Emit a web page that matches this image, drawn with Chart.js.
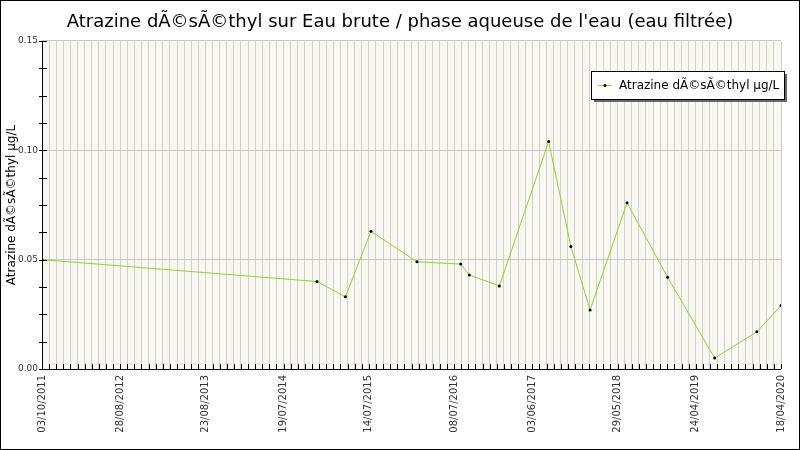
<!DOCTYPE html>
<html>
<head>
<meta charset="utf-8">
<script src="https://cdn.jsdelivr.net/npm/chart.js@4"></script>
<style>
  html, body { margin: 0; padding: 0; background: #fff; }
  #wrap { width: 798px; height: 448px; border: 1px solid #000; }
</style>
</head>
<body>
<div id="wrap"><canvas id="chart" width="798" height="448"></canvas></div>
<script>
const chartTitle = "Atrazine dÃ©sÃ©thyl sur Eau brute / phase aqueuse de l'eau (eau filtrée)"
const seriesName = 'Atrazine dÃ©sÃ©thyl µg/L'
const startDate = '2011-10-03'
const sampleDates = ['2011-10-03', '2014-12-07', '2015-04-06', '2015-07-23', '2016-02-02', '2016-08-05',
  '2016-09-10', '2017-01-15', '2017-08-11', '2017-11-13', '2018-02-02', '2018-07-08', '2018-12-26',
  '2019-07-13', '2020-01-07', '2020-04-18']
const sampleValues = [0.050, 0.040, 0.033, 0.063, 0.049, 0.048, 0.043, 0.038, 0.104, 0.056, 0.027,
  0.076, 0.042, 0.005, 0.017, 0.029]
const tickStepDays = 30
const labelSteps = [0, 11, 23, 34, 46, 58, 69, 81, 92, 104]
const yLabelValues = [0, 0.05, 0.10, 0.15]

const DAY = 86400000
const t0 = Date.parse(startDate)
const toDay = s => Math.round((Date.parse(s) - t0) / DAY)
const fmtDay = d => {
  const dt = new Date(t0 + d * DAY)
  const p = n => String(n).padStart(2, '0')
  return p(dt.getUTCDate()) + '/' + p(dt.getUTCMonth() + 1) + '/' + dt.getUTCFullYear()
}
const isYLabel = v => yLabelValues.some(l => Math.abs(l - v) < 1e-6)
const xMax = labelSteps[labelSteps.length - 1] * tickStepDays

const decor = {
  id: 'decor',
  beforeDraw(chart) {
    const { ctx, chartArea: a } = chart
    ctx.save()
    ctx.fillStyle = '#f8f8f0'
    ctx.fillRect(a.left, a.top, a.right - a.left, a.bottom - a.top)
    ctx.restore()
  },
  afterDraw(chart) {
    const { ctx, chartArea: a, scales } = chart
    ctx.save()
    // title
    ctx.fillStyle = '#000'
    ctx.font = '18px "DejaVu Sans"'
    ctx.textAlign = 'center'
    ctx.textBaseline = 'middle'
    ctx.fillText(chartTitle, 399, 21)
    // axes and inner ticks
    ctx.strokeStyle = '#000'
    ctx.lineWidth = 1
    ctx.beginPath()
    ctx.moveTo(a.left + 0.5, a.top)
    ctx.lineTo(a.left + 0.5, a.bottom + 0.5)
    ctx.lineTo(a.right, a.bottom + 0.5)
    scales.x.ticks.forEach(t => {
      const x = Math.round(scales.x.getPixelForValue(t.value)) + 0.5
      ctx.moveTo(x, a.bottom)
      ctx.lineTo(x, a.bottom - 5)
    })
    scales.y.ticks.forEach(t => {
      const y = Math.round(scales.y.getPixelForValue(t.value)) + 0.5
      ctx.moveTo(a.left - 3, y)
      ctx.lineTo(a.left + 5, y)
    })
    ctx.stroke()
    // legend
    const lx = 590, ly = 70, lw = 193, lh = 28
    ctx.fillStyle = '#666'
    ctx.fillRect(lx + 3, ly + 3, lw, lh)
    ctx.fillStyle = '#fff'
    ctx.fillRect(lx, ly, lw, lh)
    ctx.strokeRect(lx + 0.5, ly + 0.5, lw, lh)
    ctx.strokeStyle = '#9acd32'
    ctx.beginPath()
    ctx.moveTo(lx + 7, ly + 14.5)
    ctx.lineTo(lx + 21, ly + 14.5)
    ctx.stroke()
    ctx.fillStyle = '#000'
    ctx.beginPath()
    ctx.arc(lx + 14, ly + 14.5, 1.5, 0, Math.PI * 2)
    ctx.fill()
    ctx.font = '12px "DejaVu Sans"'
    ctx.textAlign = 'left'
    ctx.fillText(seriesName, lx + 28, ly + 15)
    ctx.restore()
  }
}

new Chart(document.getElementById('chart'), {
  type: 'line',
  data: {
    datasets: [{
      label: seriesName,
      data: sampleDates.map((d, i) => ({ x: toDay(d), y: sampleValues[i] })),
      borderColor: '#9acd32',
      borderWidth: 1,
      pointRadius: 1.5,
      pointBackgroundColor: '#000',
      pointBorderColor: '#000',
      pointBorderWidth: 0,
      tension: 0
    }]
  },
  options: {
    responsive: false,
    animation: false,
    layout: { padding: { top: 40, right: 0 } },
    plugins: { legend: { display: false }, tooltip: { enabled: false } },
    scales: {
      x: {
        type: 'linear',
        min: 0,
        max: xMax,
        afterBuildTicks: s => {
          const ticks = []
          for (let d = 0; d <= xMax; d += tickStepDays) ticks.push({ value: d })
          s.ticks = ticks
        },
        afterFit: s => { s.height = 80 },
        grid: { color: '#d0d0d0', drawTicks: false, drawOnChartArea: true },
        border: { display: false },
        ticks: {
          autoSkip: false,
          maxRotation: 90,
          minRotation: 90,
          padding: 6,
          color: '#333',
          font: { family: 'DejaVu Sans', size: 10 },
          callback: v => labelSteps.includes(Math.round(v / tickStepDays)) ? fmtDay(v) : ''
        }
      },
      y: {
        min: 0,
        max: 0.15,
        afterBuildTicks: s => {
          const ticks = []
          for (let i = 0; i <= 12; i++) ticks.push({ value: i * 0.0125 })
          s.ticks = ticks
        },
        afterFit: s => { s.width = 41 },
        grid: {
          drawTicks: false,
          color: c => (isYLabel(c.tick.value) && c.tick.value > 0) ? '#c8c8c8' : 'rgba(0,0,0,0)'
        },
        border: { display: false },
        title: {
          display: true,
          text: seriesName,
          color: '#000',
          font: { family: 'DejaVu Sans', size: 12 },
          padding: { top: 4, bottom: 0 }
        },
        ticks: {
          autoSkip: false,
          padding: 4,
          color: '#333',
          font: { family: 'DejaVu Sans', size: 9 },
          callback: v => isYLabel(v) ? v.toFixed(2) : ''
        }
      }
    }
  },
  plugins: [decor]
})
</script>
</body>
</html>
